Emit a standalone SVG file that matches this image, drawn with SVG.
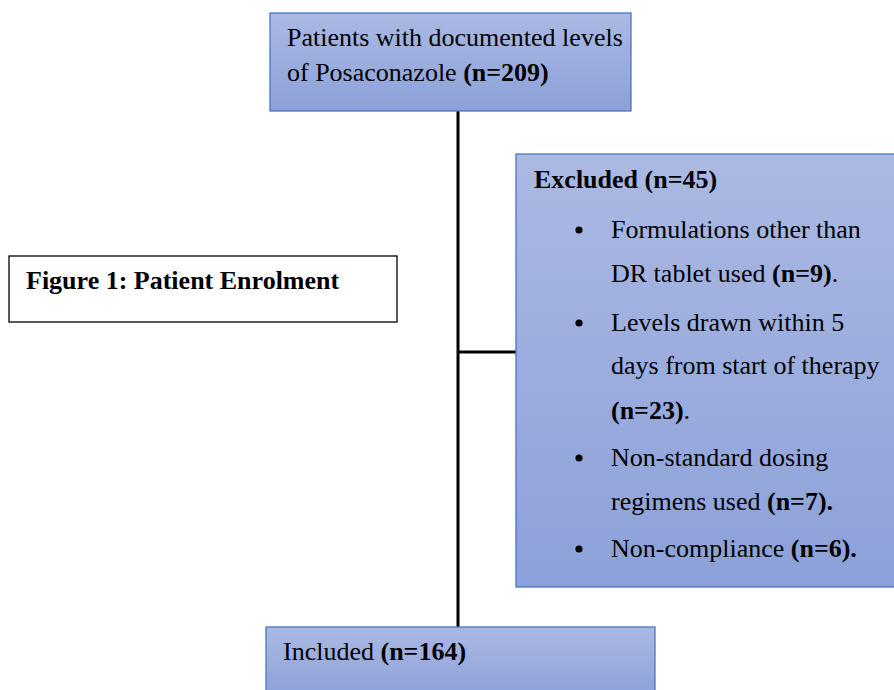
<svg xmlns="http://www.w3.org/2000/svg" width="894" height="690" viewBox="0 0 894 690">
<defs>
<linearGradient id="g" x1="0" y1="0" x2="0" y2="1">
<stop offset="0" stop-color="#abb9e2"/>
<stop offset="1" stop-color="#8ca1d9"/>
</linearGradient>
<style>
.box{fill:url(#g);stroke:#4a76c6;stroke-width:1.3}
.t{font-family:"Liberation Serif","Times New Roman",serif;font-size:26px;fill:#000}
.b{font-weight:bold}
.ln{stroke:#000;stroke-width:3;fill:none}
</style>
</defs>
<rect width="894" height="690" fill="#fff"/>
<g id="connectors">
<line class="ln" x1="458" y1="111" x2="458" y2="627"/>
<line class="ln" x1="458" y1="352" x2="517" y2="352"/>
</g>
<g id="top">
<rect class="box" x="270" y="13" width="361" height="98"/>
<text class="t" x="287" y="46">Patients with documented levels</text>
<text class="t" x="287" y="81">of Posaconazole <tspan class="b">(n=209)</tspan></text>
</g>
<g id="title">
<rect x="9" y="256" width="388" height="66" fill="#fff" stroke="#000" stroke-width="1.3"/>
<text class="t b" x="26" y="289">Figure 1: Patient Enrolment</text>
</g>
<g id="excluded">
<rect class="box" x="516" y="154" width="380" height="433"/>
<text class="t b" x="534" y="188">Excluded (n=45)</text>
<g fill="#000">
<circle cx="579" cy="230" r="3.6"/>
<circle cx="579" cy="323" r="3.6"/>
<circle cx="579" cy="458" r="3.6"/>
<circle cx="579" cy="549" r="3.6"/>
</g>
<text class="t" x="611" y="238">Formulations other than</text>
<text class="t" x="611" y="282">DR tablet used <tspan class="b">(n=9)</tspan>.</text>
<text class="t" x="611" y="331">Levels drawn within 5</text>
<text class="t" x="611" y="374">days from start of therapy</text>
<text class="t" x="611" y="419"><tspan class="b">(n=23)</tspan>.</text>
<text class="t" x="611" y="466">Non-standard dosing</text>
<text class="t" x="611" y="510">regimens used <tspan class="b">(n=7).</tspan></text>
<text class="t" x="611" y="557">Non-compliance <tspan class="b">(n=6).</tspan></text>
</g>
<g id="included">
<rect class="box" x="266" y="627" width="389" height="70"/>
<text class="t" x="283" y="660">Included <tspan class="b">(n=164)</tspan></text>
</g>
</svg>
